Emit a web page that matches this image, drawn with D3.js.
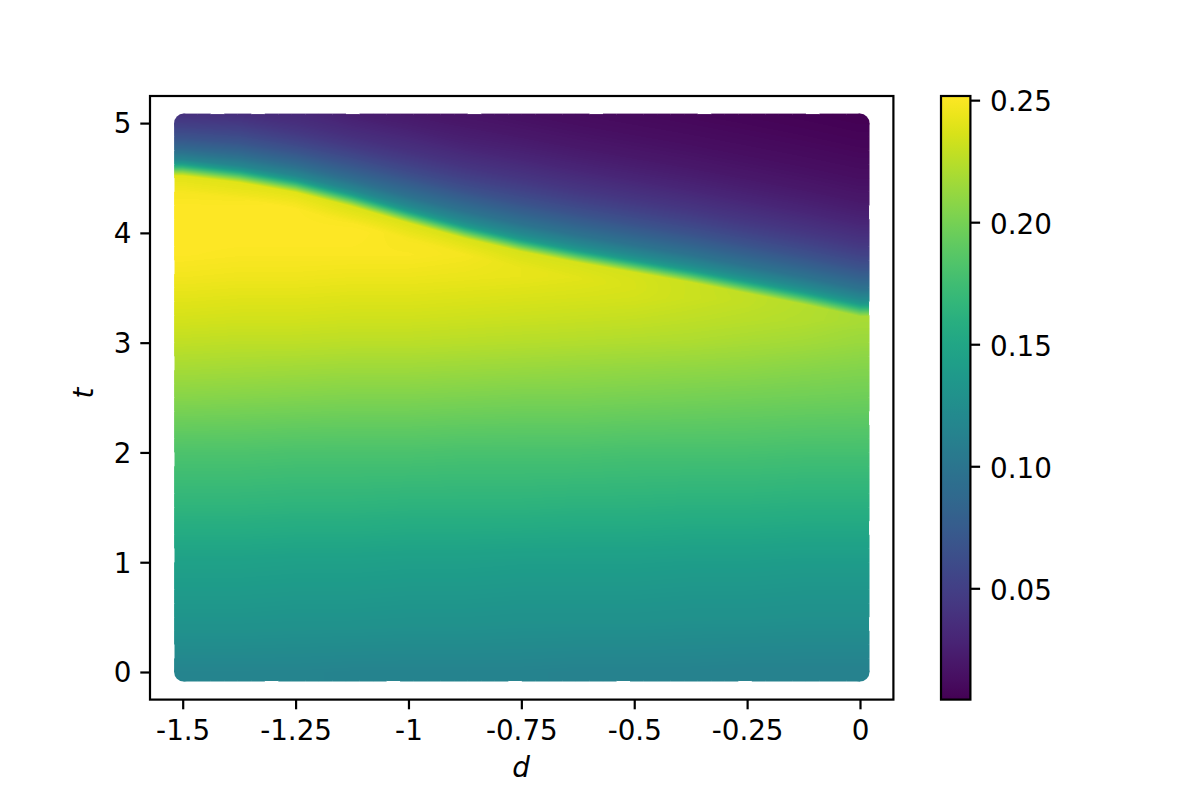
<!DOCTYPE html>
<html><head><meta charset="utf-8">
<script src="https://cdn.jsdelivr.net/npm/d3@7"></script>
<style>html,body{margin:0;padding:0;background:#fff}svg{display:block}</style>
</head><body><svg id="c" width="1200" height="800"></svg>
<script>
const dTickValues=[-1.5,-1.25,-1,-0.75,-0.5,-0.25,0];
const dTickLabels=["-1.5","-1.25","-1","-0.75","-0.5","-0.25","0"];
const tTickValues=[0,1,2,3,4,5];
const cbTickValues=[0.05,0.10,0.15,0.20,0.25];
const colorDomain=[0.0044,0.2517];
const dColumns=[-1.5,-1.375,-1.25,-1.125,-1,-0.875,-0.75,-0.625,-0.5,-0.375,-0.25,-0.125,0];
// t at which the sharp drop happens, per d column
const edgeT=[4.57,4.51,4.42,4.29,4.14,4.00,3.88,3.78,3.69,3.60,3.50,3.40,3.29];
// height above the drop, and the value read there, per d column
const aboveU=[1.8,1.5,1.2,1,0.8,0.6,0.5,0.4,0.3,0.2,0.1,0.06];
const aboveValues=[
[.004,.006,.010,.015,.022,.031,.040,.052,.067,.087,.116,.140],
[.004,.006,.011,.016,.024,.034,.044,.056,.071,.091,.118,.140],
[.004,.007,.012,.017,.026,.036,.044,.056,.072,.091,.119,.140],
[.005,.007,.012,.015,.024,.037,.046,.059,.074,.092,.120,.140],
[.005,.008,.013,.017,.027,.040,.050,.062,.078,.095,.122,.140],
[.005,.008,.014,.019,.028,.042,.052,.064,.080,.097,.123,.140],
[.004,.008,.014,.020,.030,.044,.054,.066,.081,.098,.124,.140],
[.004,.008,.014,.020,.030,.044,.054,.066,.081,.098,.124,.140],
[.004,.008,.014,.020,.030,.044,.054,.066,.081,.098,.124,.140],
[.004,.008,.014,.020,.030,.044,.054,.066,.081,.098,.124,.140],
[.004,.008,.014,.020,.030,.044,.054,.066,.081,.098,.124,.140],
[.004,.008,.014,.020,.030,.044,.054,.066,.081,.098,.124,.140],
[.004,.008,.014,.020,.030,.044,.054,.066,.081,.098,.124,.140]
];
// value just under the drop, per d column
const justBelow=[.240,.240,.240,.238,.238,.237,.236,.236,.235,.232,.228,.224,.219];
// values at fixed t, per d column (null where that t lies above the drop)
const belowT=[4.4,4.2,4,3.8,3.6,3.4,3.2,3,2.75,2.5,2,1.5,1,0.5,0];
const belowValues=[
[.248,.252,.252,.251,.247,.241,.235,.228,.218,.207,.182,.165,.145,.133,.116],
[.247,.252,.252,.250,.246,.240,.234,.227,.217,.206,.182,.165,.145,.133,.116],
[null,.251,.252,.250,.246,.240,.234,.227,.216,.205,.181,.164,.144,.132,.116],
[null,.247,.252,.250,.245,.239,.233,.226,.215,.204,.181,.164,.144,.132,.115],
[null,null,.248,.250,.245,.239,.233,.226,.215,.204,.181,.163,.143,.131,.115],
[null,null,null,.248,.244,.238,.232,.225,.214,.203,.180,.163,.143,.131,.115],
[null,null,null,null,.243,.237,.231,.224,.213,.202,.180,.163,.142,.130,.115],
[null,null,null,null,.241,.236,.230,.223,.212,.202,.180,.162,.142,.130,.114],
[null,null,null,null,.238,.235,.229,.222,.211,.201,.179,.162,.142,.130,.114],
[null,null,null,null,null,.232,.227,.221,.210,.200,.179,.161,.141,.129,.114],
[null,null,null,null,null,.229,.225,.219,.209,.199,.179,.161,.141,.129,.113],
[null,null,null,null,null,null,.223,.217,.207,.198,.178,.160,.140,.128,.113],
[null,null,null,null,null,null,.219,.214,.205,.197,.178,.160,.140,.128,.113]
];
// outermost scatter points along each side of the cloud
const topEdgeT=[5,5,4.995,5,5,4.995,5,5,5,5,5,5,4.995,5,5,5,5,5,5,5,5,4.995,5,5,5,5,5,5,5,5,4.995,5,5,5,5,5,5,5,4.995,5,5,5,5,5,5,5,4.995,5,5,5];
const bottomEdgeT=[0,0,0,0,0,0,0.005,0,0,0,0,0,0,0,0,0.005,0,0,0,0,0,0,0,0,0.005,0,0,0,0,0,0,0,0.005,0,0,0,0,0,0,0,0,0.005,0,0,0,0,0,0,0,0];
const leftEdgeD=[-1.498,-1.498,-1.498,-1.498,-1.497,-1.498,-1.498,-1.498,-1.498,-1.498,-1.497,-1.498,-1.498,-1.498,-1.498,-1.498,-1.498,-1.497,-1.498,-1.498,-1.498,-1.498,-1.498,-1.498,-1.497,-1.498,-1.498,-1.498,-1.498,-1.498,-1.498,-1.497,-1.498,-1.498,-1.498,-1.498,-1.498,-1.498,-1.497,-1.498];
const rightEdgeD=[0,0,0,0,0,0,-0.001,0,0,0,0,0,0,-0.001,0,0,0,0,0,0,0,-0.001,0,0,0,0,0,0,0,-0.001,0,0,0,0,0,0,-0.001,0,0,0];
const cornerD=[-1.498,0],cornerT=[0,5];

const fs=27.78,lw=2.2,tickLen=9.7;
const fr={l:150,r:893.4,t:96,b:699.6};
const cb={l:941,r:970.4};
const svg=d3.select("#c");
const x=d3.scaleLinear().domain([0,-1.5]).range([860,182.7]);
const y=d3.scaleLinear().domain([0,5]).range([672,123.1]);
const color=d3.scaleSequential(d3.interpolateViridis).domain(colorDomain);
const cy=d3.scaleLinear().domain(colorDomain).range([fr.b,fr.t]);
const defs=svg.append("defs");

const R=9.5, inset=0.8;
const clip=defs.append("clipPath").attr("id","cloud");
const xL=x(cornerD[0]), xR=x(cornerD[1]), yT=y(cornerT[1]), yB=y(cornerT[0]);
clip.append("rect").attr("x",xL-R+inset).attr("y",yT-R+inset)
  .attr("width",xR-xL+2*R-2*inset).attr("height",yB-yT+2*R-2*inset).attr("rx",R);
cornerD.forEach(cd=>cornerT.forEach(ct=>clip.append("circle").attr("cx",x(cd)).attr("cy",y(ct)).attr("r",R)));
const hw=(xR-xL)/topEdgeT.length, vh=(yB-yT)/leftEdgeD.length;
const hSeg=(arr,fy)=>clip.selectAll(null).data(arr).enter().append("rect")
  .attr("x",(v,i)=>xL+i*hw).attr("width",hw+0.1).attr("y",fy).attr("height",R);
hSeg(topEdgeT,v=>y(v)-R);
hSeg(bottomEdgeT,v=>y(v));
const vSeg=(arr,fx)=>clip.selectAll(null).data(arr).enter().append("rect")
  .attr("y",(v,i)=>yT+i*vh).attr("height",vh+0.1).attr("x",fx).attr("width",R);
vSeg(leftEdgeD,v=>x(v)-R);
vSeg(rightEdgeD,v=>x(v));

// per-column readers of the tables above
const aboveScales=aboveValues.map(vals=>d3.scaleLinear().domain(aboveU.slice().reverse()).range(vals.slice().reverse()).clamp(true));
const belowScales=belowValues.map(vals=>{
  const pairs=belowT.map((t,j)=>[t,vals[j]]).filter(p=>p[1]!==null).reverse();
  return d3.scaleLinear().domain(pairs.map(p=>p[0])).range(pairs.map(p=>p[1])).clamp(true);
});
const edgeAt=d3.scaleLinear().domain(dColumns).range(edgeT).clamp(true);
const justBelowAt=d3.scaleLinear().domain(dColumns).range(justBelow).clamp(true);
const colIndex=d3.scaleLinear().domain([-1.5,0]).range([0,dColumns.length-1]).clamp(true);
const blendNear=d3.scaleLinear().domain([-0.2,-0.05]).range([0,1]).clamp(true);
const blendDrop=d3.scaleLinear().domain([-0.05,0.06]).range([0,1]).clamp(true);

function fieldValue(d,t){
  const k=colIndex(d), i=Math.min(Math.floor(k),dColumns.length-2), f=k-i;
  const e=edgeAt(d), u=t-e;
  const mix=(a,b,w)=>a+(b-a)*w;
  if(u>=0.06) return mix(aboveScales[i](u),aboveScales[i+1](u),f);
  const base=mix(belowScales[i](t),belowScales[i+1](t),f);
  const near=mix(base,justBelowAt(d),blendNear(u));
  if(u<=-0.05) return near;
  return mix(justBelowAt(d),mix(aboveScales[i](0.06),aboveScales[i+1](0.06),f),blendDrop(u));
}
const px0=168,py0=106,pw=708,ph=582;
const canvas=d3.create("canvas").attr("width",pw).attr("height",ph).node();
const ctx=canvas.getContext("2d");
const img=ctx.createImageData(pw,ph);
for(let py=0;py<ph;py++){
  const t=y.invert(py0+py+0.5);
  for(let px=0;px<pw;px++){
    const d=x.invert(px0+px+0.5);
    const c=d3.rgb(color(fieldValue(d,t)));
    const o=(py*pw+px)*4;
    img.data[o]=c.r;img.data[o+1]=c.g;img.data[o+2]=c.b;img.data[o+3]=255;
  }
}
ctx.putImageData(img,0,0);
svg.append("g").attr("clip-path","url(#cloud)").append("image")
  .attr("x",px0).attr("y",py0).attr("width",pw).attr("height",ph)
  .attr("href",canvas.toDataURL());

const cg=defs.append("linearGradient").attr("id","cbar").attr("x1",0).attr("x2",0).attr("y1",1).attr("y2",0);
const cbStops=d3.range(0,33);
cg.selectAll("stop").data(cbStops).enter().append("stop")
  .attr("offset",k=>k/32).attr("stop-color",k=>d3.interpolateViridis(k/32));

svg.append("rect").attr("x",fr.l).attr("y",fr.t).attr("width",fr.r-fr.l).attr("height",fr.b-fr.t)
  .attr("fill","none").attr("stroke","#000").attr("stroke-width",lw);

const font="'DejaVu Sans'";
function style(g,dy){
  g.select(".domain").remove();
  g.selectAll("line").attr("stroke","#000").attr("stroke-width",lw);
  g.selectAll("text").attr("font-family",font).attr("font-size",fs).attr("fill","#000");
  if(dy) g.selectAll("text").attr("dy",dy);
}
svg.append("g").attr("transform",`translate(0,${fr.b})`)
  .call(d3.axisBottom(x).tickValues(dTickValues).tickFormat((d,i)=>dTickLabels[i]).tickSize(tickLen).tickPadding(10.5))
  .call(style);
svg.append("g").attr("transform",`translate(${fr.l},0)`)
  .call(d3.axisLeft(y).tickValues(tTickValues).tickFormat(d3.format("d")).tickSize(tickLen).tickPadding(9))
  .call(g=>style(g,"0.356em"));

svg.append("rect").attr("x",cb.l).attr("y",fr.t).attr("width",cb.r-cb.l).attr("height",fr.b-fr.t)
  .attr("fill","url(#cbar)").attr("stroke","#000").attr("stroke-width",lw);
svg.append("g").attr("transform",`translate(${cb.r},0)`)
  .call(d3.axisRight(cy).tickValues(cbTickValues).tickFormat(d3.format(".2f")).tickSize(tickLen).tickPadding(10))
  .call(g=>style(g,"0.39em"));

svg.append("text").attr("x",521).attr("y",777).attr("text-anchor","middle")
  .attr("font-family",font).attr("font-style","italic").attr("font-size",fs).text("d");
svg.append("text").attr("transform","translate(93,393) rotate(-90)").attr("text-anchor","middle")
  .attr("font-family",font).attr("font-style","italic").attr("font-size",fs).text("t");
</script></body></html>
